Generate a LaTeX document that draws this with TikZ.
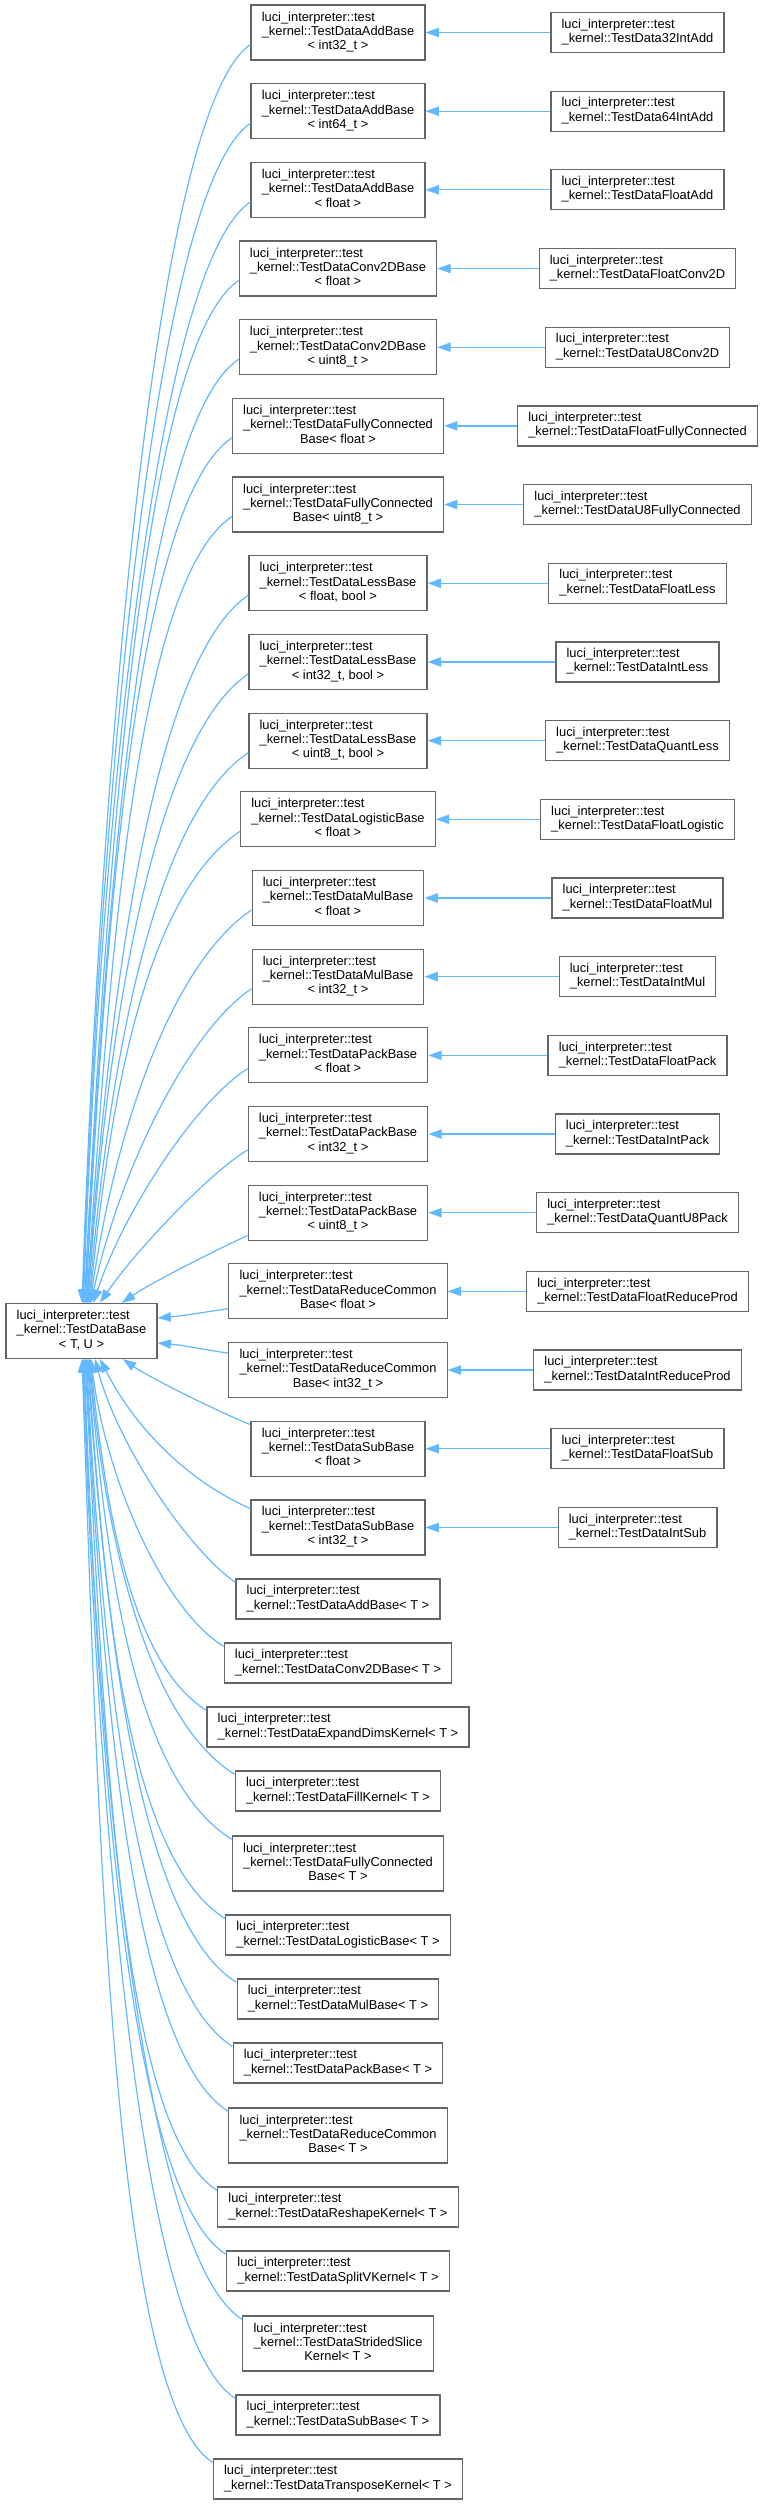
\documentclass[tikz,border=0pt]{standalone}
\usepackage{fontspec}
\setmainfont{Liberation Sans}
\usetikzlibrary{arrows.meta,calc}

\definecolor{edgeblue}{HTML}{63B8FF}
\definecolor{boxgray}{HTML}{666666}

\newcommand{\clsname}[1]{\begin{tabular}{@{}l@{}}luci\_interpreter::test\\#1\end{tabular}}
\newcommand{\clsnamebr}[2]{\begin{tabular}{@{}l@{}}luci\_interpreter::test\\#1\\\multicolumn{1}{@{}c@{}}{#2}\end{tabular}}

\begin{document}
\begin{tikzpicture}[x=0.75pt, y=0.75pt]
\tikzset{
  classbox/.style={rectangle, draw=boxgray, line width=0.9pt, fill=white, inner xsep=8pt, inner ysep=2pt,
    font=\fontsize{9.66}{10.75}\selectfont},
  twoline/.style={classbox, minimum height=30pt},
  threeline/.style={classbox, minimum height=41.25pt},
  inherit/.style={-{Triangle[length=10pt,width=7pt]}, line width=0.9pt, draw=edgeblue}
}
\path[use as bounding box, fill=white] (0,0) rectangle (764,-2505);

% base class
\node[threeline] (base) at (81.5,-1331) {\clsnamebr{\_kernel::TestDataBase}{< T, U >}};

% typed bases
\node[threeline] (addi32) at (338,-32.5) {\clsnamebr{\_kernel::TestDataAddBase}{< int32\_t >}};
\node[threeline] (addi64) at (338,-111.18) {\clsnamebr{\_kernel::TestDataAddBase}{< int64\_t >}};
\node[threeline] (addf) at (338,-189.86) {\clsnamebr{\_kernel::TestDataAddBase}{< float >}};
\node[threeline] (convf) at (338,-268.54) {\clsnamebr{\_kernel::TestDataConv2DBase}{< float >}};
\node[threeline] (convu8) at (338,-347.22) {\clsnamebr{\_kernel::TestDataConv2DBase}{< uint8\_t >}};
\node[threeline] (fcf) at (338,-425.9) {\clsnamebr{\_kernel::TestDataFullyConnected}{Base< float >}};
\node[threeline] (fcu8) at (338,-504.58) {\clsnamebr{\_kernel::TestDataFullyConnected}{Base< uint8\_t >}};
\node[threeline] (lessf) at (338,-583.26) {\clsnamebr{\_kernel::TestDataLessBase}{< float, bool >}};
\node[threeline] (lessi32) at (338,-661.94) {\clsnamebr{\_kernel::TestDataLessBase}{< int32\_t, bool >}};
\node[threeline] (lessu8) at (338,-740.62) {\clsnamebr{\_kernel::TestDataLessBase}{< uint8\_t, bool >}};
\node[threeline] (logf) at (338,-819.3) {\clsnamebr{\_kernel::TestDataLogisticBase}{< float >}};
\node[threeline] (mulf) at (338,-897.98) {\clsnamebr{\_kernel::TestDataMulBase}{< float >}};
\node[threeline] (muli32) at (338,-976.66) {\clsnamebr{\_kernel::TestDataMulBase}{< int32\_t >}};
\node[threeline] (packf) at (338,-1055.34) {\clsnamebr{\_kernel::TestDataPackBase}{< float >}};
\node[threeline] (packi32) at (338,-1134.02) {\clsnamebr{\_kernel::TestDataPackBase}{< int32\_t >}};
\node[threeline] (packu8) at (338,-1212.7) {\clsnamebr{\_kernel::TestDataPackBase}{< uint8\_t >}};
\node[threeline] (redf) at (338,-1291.38) {\clsnamebr{\_kernel::TestDataReduceCommon}{Base< float >}};
\node[threeline] (redi32) at (338,-1370.06) {\clsnamebr{\_kernel::TestDataReduceCommon}{Base< int32\_t >}};
\node[threeline] (subf) at (338,-1448.74) {\clsnamebr{\_kernel::TestDataSubBase}{< float >}};
\node[threeline] (subi32) at (338,-1527.42) {\clsnamebr{\_kernel::TestDataSubBase}{< int32\_t >}};

% template bases
\node[twoline] (addt) at (338,-1599) {\clsname{\_kernel::TestDataAddBase< T >}};
\node[twoline] (convt) at (338,-1663) {\clsname{\_kernel::TestDataConv2DBase< T >}};
\node[twoline] (expt) at (338,-1727) {\clsname{\_kernel::TestDataExpandDimsKernel< T >}};
\node[twoline] (fillt) at (338,-1791) {\clsname{\_kernel::TestDataFillKernel< T >}};
\node[threeline] (fct) at (338,-1863.5) {\clsnamebr{\_kernel::TestDataFullyConnected}{Base< T >}};
\node[twoline] (logt) at (338,-1935) {\clsname{\_kernel::TestDataLogisticBase< T >}};
\node[twoline] (mult) at (338,-1999) {\clsname{\_kernel::TestDataMulBase< T >}};
\node[twoline] (packt) at (338,-2063) {\clsname{\_kernel::TestDataPackBase< T >}};
\node[threeline] (redt) at (338,-2135.5) {\clsnamebr{\_kernel::TestDataReduceCommon}{Base< T >}};
\node[twoline] (rsht) at (338,-2207) {\clsname{\_kernel::TestDataReshapeKernel< T >}};
\node[twoline] (splt) at (338,-2271) {\clsname{\_kernel::TestDataSplitVKernel< T >}};
\node[threeline] (strt) at (338,-2343.5) {\clsnamebr{\_kernel::TestDataStridedSlice}{Kernel< T >}};
\node[twoline] (subt) at (338,-2415) {\clsname{\_kernel::TestDataSubBase< T >}};
\node[twoline] (trat) at (338,-2479) {\clsname{\_kernel::TestDataTransposeKernel< T >}};

% test data classes
\coordinate (rcol) at (637.5,0);
\node[twoline] (i32add) at (addi32 -| rcol) {\clsname{\_kernel::TestData32IntAdd}};
\node[twoline] (i64add) at (addi64 -| rcol) {\clsname{\_kernel::TestData64IntAdd}};
\node[twoline] (fadd) at (addf -| rcol) {\clsname{\_kernel::TestDataFloatAdd}};
\node[twoline] (fconv) at (convf -| rcol) {\clsname{\_kernel::TestDataFloatConv2D}};
\node[twoline] (u8conv) at (convu8 -| rcol) {\clsname{\_kernel::TestDataU8Conv2D}};
\node[twoline] (ffc) at (fcf -| rcol) {\clsname{\_kernel::TestDataFloatFullyConnected}};
\node[twoline] (u8fc) at (fcu8 -| rcol) {\clsname{\_kernel::TestDataU8FullyConnected}};
\node[twoline] (fless) at (lessf -| rcol) {\clsname{\_kernel::TestDataFloatLess}};
\node[twoline] (iless) at (lessi32 -| rcol) {\clsname{\_kernel::TestDataIntLess}};
\node[twoline] (qless) at (lessu8 -| rcol) {\clsname{\_kernel::TestDataQuantLess}};
\node[twoline] (flog) at (logf -| rcol) {\clsname{\_kernel::TestDataFloatLogistic}};
\node[twoline] (fmul) at (mulf -| rcol) {\clsname{\_kernel::TestDataFloatMul}};
\node[twoline] (imul) at (muli32 -| rcol) {\clsname{\_kernel::TestDataIntMul}};
\node[twoline] (fpack) at (packf -| rcol) {\clsname{\_kernel::TestDataFloatPack}};
\node[twoline] (ipack) at (packi32 -| rcol) {\clsname{\_kernel::TestDataIntPack}};
\node[twoline] (qpack) at (packu8 -| rcol) {\clsname{\_kernel::TestDataQuantU8Pack}};
\node[twoline] (fred) at (redf -| rcol) {\clsname{\_kernel::TestDataFloatReduceProd}};
\node[twoline] (ired) at (redi32 -| rcol) {\clsname{\_kernel::TestDataIntReduceProd}};
\node[twoline] (fsub) at (subf -| rcol) {\clsname{\_kernel::TestDataFloatSub}};
\node[twoline] (isub) at (subi32 -| rcol) {\clsname{\_kernel::TestDataIntSub}};

\draw[inherit] (i32add) -- (addi32);
\draw[inherit] (i64add) -- (addi64);
\draw[inherit] (fadd) -- (addf);
\draw[inherit] (fconv) -- (convf);
\draw[inherit] (u8conv) -- (convu8);
\draw[inherit] (ffc) -- (fcf);
\draw[inherit] (u8fc) -- (fcu8);
\draw[inherit] (fless) -- (lessf);
\draw[inherit] (iless) -- (lessi32);
\draw[inherit] (qless) -- (lessu8);
\draw[inherit] (flog) -- (logf);
\draw[inherit] (fmul) -- (mulf);
\draw[inherit] (imul) -- (muli32);
\draw[inherit] (fpack) -- (packf);
\draw[inherit] (ipack) -- (packi32);
\draw[inherit] (qpack) -- (packu8);
\draw[inherit] (fred) -- (redf);
\draw[inherit] (ired) -- (redi32);
\draw[inherit] (fsub) -- (subf);
\draw[inherit] (isub) -- (subi32);

% edges into the base, from above
\draw[inherit] ([yshift=-9pt]addi32.west) to[out=214, in=88, out distance=90pt, in distance=377pt] ($(base.north)+(0.5,0)$);
\draw[inherit] ([yshift=-9pt]addi64.west) to[out=214, in=88, out distance=90pt, in distance=354pt] ($(base.north)+(1.25,0)$);
\draw[inherit] ([yshift=-9pt]addf.west) to[out=214, in=88, out distance=90pt, in distance=330pt] ($(base.north)+(2,0)$);
\draw[inherit] ([yshift=-9pt]convf.west) to[out=214, in=87, out distance=90pt, in distance=307pt] ($(base.north)+(2.75,0)$);
\draw[inherit] ([yshift=-9pt]convu8.west) to[out=214, in=87, out distance=90pt, in distance=283pt] ($(base.north)+(3.5,0)$);
\draw[inherit] ([yshift=-9pt]fcf.west) to[out=214, in=87, out distance=90pt, in distance=260pt] ($(base.north)+(4.25,0)$);
\draw[inherit] ([yshift=-9pt]fcu8.west) to[out=214, in=86, out distance=90pt, in distance=236pt] ($(base.north)+(5,0)$);
\draw[inherit] ([yshift=-9pt]lessf.west) to[out=214, in=86, out distance=90pt, in distance=212pt] ($(base.north)+(5.75,0)$);
\draw[inherit] ([yshift=-9pt]lessi32.west) to[out=214, in=86, out distance=90pt, in distance=189pt] ($(base.north)+(6.5,0)$);
\draw[inherit] ([yshift=-9pt]lessu8.west) to[out=214, in=85, out distance=90pt, in distance=165pt] ($(base.north)+(7.25,0)$);
\draw[inherit] ([yshift=-9pt]logf.west) to[out=214, in=84, out distance=90pt, in distance=142pt] ($(base.north)+(8,0)$);
\draw[inherit] ([yshift=-9pt]mulf.west) to[out=214, in=82, out distance=77pt, in distance=118pt] ($(base.north)+(8.75,0)$);
\draw[inherit] ([yshift=-9pt]muli32.west) to[out=214, in=78, out distance=61pt, in distance=94pt] ($(base.north)+(9.5,0)$);
\draw[inherit] ([yshift=-10pt]packf.west) to[out=212, in=72, out distance=46pt, in distance=71pt] ($(base.north)+(12,0)$);
\draw[inherit] ([yshift=-12pt]packi32.west) to[out=210, in=56, out distance=31pt, in distance=47pt] ($(base.north)+(18.5,0)$);
\draw[inherit] ([yshift=-17pt]packu8.west) to[out=205, in=35, out distance=30pt, in distance=25pt] ($(base.north)+(40.5,0)$);

% edges into the base, from the side
\draw[inherit] ([yshift=-13pt]redf.west) to[out=188, in=5] ([yshift=9.75pt]base.east);
\draw[inherit] ([yshift=12.75pt]redi32.west) to[out=172, in=-5] ([yshift=-9pt]base.east);

% edges into the base, from below
\draw[inherit] ([yshift=-3pt]subf.north west) to[out=158, in=325, out distance=30pt, in distance=22pt] ($(base.south)+(41.5,0)$);
\draw[inherit] ([yshift=-7pt]subi32.north west) to[out=156, in=297, out distance=55pt, in distance=55pt] ($(base.south)+(18.5,0)$);
\draw[inherit] ([yshift=-3pt]addt.north west) to[out=145, in=285, out distance=44pt, in distance=67pt] ($(base.south)+(13.5,0)$);
\draw[inherit] ([yshift=-3pt]convt.north west) to[out=148, in=277, out distance=56pt, in distance=86pt] ($(base.south)+(9.5,0)$);
\draw[inherit] ([yshift=-3pt]expt.north west) to[out=148, in=276, out distance=69pt, in distance=106pt] ($(base.south)+(8.75,0)$);
\draw[inherit] ([yshift=-3pt]fillt.north west) to[out=148, in=275, out distance=81pt, in distance=125pt] ($(base.south)+(8,0)$);
\draw[inherit] ([yshift=-3pt]fct.north west) to[out=148, in=275, out distance=90pt, in distance=144pt] ($(base.south)+(7.25,0)$);
\draw[inherit] ([yshift=-3pt]logt.north west) to[out=148, in=274, out distance=90pt, in distance=168pt] ($(base.south)+(6.5,0)$);
\draw[inherit] ([yshift=-3pt]mult.north west) to[out=148, in=274, out distance=90pt, in distance=187pt] ($(base.south)+(5.75,0)$);
\draw[inherit] ([yshift=-3pt]packt.north west) to[out=148, in=273, out distance=90pt, in distance=206pt] ($(base.south)+(5,0)$);
\draw[inherit] ([yshift=-3pt]redt.north west) to[out=148, in=273, out distance=90pt, in distance=226pt] ($(base.south)+(4.25,0)$);
\draw[inherit] ([yshift=-3pt]rsht.north west) to[out=148, in=273, out distance=90pt, in distance=250pt] ($(base.south)+(3.5,0)$);
\draw[inherit] ([yshift=-3pt]splt.north west) to[out=148, in=272, out distance=90pt, in distance=269pt] ($(base.south)+(2.75,0)$);
\draw[inherit] ([yshift=-3pt]strt.north west) to[out=148, in=272, out distance=90pt, in distance=288pt] ($(base.south)+(2,0)$);
\draw[inherit] ([yshift=-3pt]subt.north west) to[out=148, in=272, out distance=90pt, in distance=312pt] ($(base.south)+(1.25,0)$);
\draw[inherit] ([yshift=-3pt]trat.north west) to[out=148, in=272, out distance=90pt, in distance=331pt] ($(base.south)+(0.5,0)$);
\end{tikzpicture}
\end{document}
